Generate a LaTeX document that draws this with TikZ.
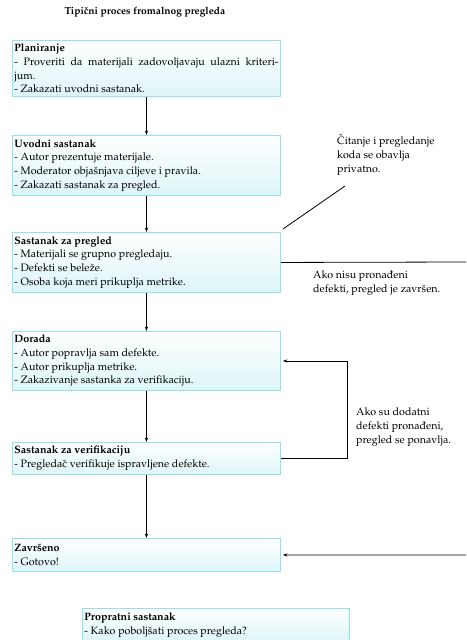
\documentclass[tikz,border=0pt]{standalone}
\usepackage[T1]{fontenc}
\usepackage{mathpazo}
\usetikzlibrary{arrows.meta}
\definecolor{boxline}{HTML}{8FE3EA}
\definecolor{boxbot}{HTML}{DDF5F7}
\tikzset{
  stage/.style={draw=boxline, line width=0.9pt, top color=white, bottom color=boxbot,
    anchor=north west, text width=264pt, inner xsep=2pt, inner ysep=0pt, align=justify,
    font=\fontsize{10.7}{13.7}\selectfont\setlength\parindent{0pt}},
  arr/.style={line width=0.8pt, -{Stealth[length=4.5pt,width=3.2pt]}},
  ln/.style={line width=0.8pt},
  note/.style={anchor=north west, align=left, inner sep=0pt, font=\fontsize{10.7}{14}\selectfont}
}
\begin{document}
\begin{tikzpicture}[x=1pt,y=-1pt]
\useasboundingbox (0,0) rectangle (466,640);
\node[font=\fontsize{10.2}{12}\selectfont] (title) at (145,12) {\textbf{Tipi\v{c}ni proces fromalnog pregleda}};

\node[stage, minimum height=56pt] (plan) at (12,40) {\textbf{Planiranje}\par
- Proveriti da materijali zadovoljavaju ulazni kriteri-\linebreak jum.\par
- Zakazati uvodni sastanak.};

\node[stage, minimum height=60pt] (uvod) at (12,135) {\textbf{Uvodni sastanak}\par
- Autor prezentuje materijale.\par
- Moderator obja\v{s}njava ciljeve i pravila.\par
- Zakazati sastanak za pregled.};

\node[stage, minimum height=60pt] (sast) at (12,232) {\textbf{Sastanak za pregled}\par
- Materijali se grupno pregledaju.\par
- Defekti se bele\v{z}e.\par
- Osoba koja meri prikuplja metrike.};

\node[stage, minimum height=59pt] (dor) at (12,331) {\textbf{Dorada}\par
- Autor popravlja sam defekte.\par
- Autor prikuplja metrike.\par
- Zakazivanje sastanka za verifikaciju.};

\node[stage, minimum height=32pt] (ver) at (12,442) {\textbf{Sastanak za verifikaciju}\par
- Pregleda\v{c} verifikuje ispravljene defekte.};

\node[stage, minimum height=33pt] (zav) at (12,538) {\textbf{Zavr\v{s}eno}\par
- Gotovo!};

\node[stage, minimum height=33pt, text width=263pt] (prop) at (82,608) {\textbf{Propratni sastanak}\par
- Kako pobolj\v{s}ati proces pregleda?};

\node[note] (n1) at (337,134) {\v{C}itanje i pregledanje\\koda se obavlja\\privatno.};
\node[note] (n2) at (313,271) {Ako nisu prona\dj eni\\defekti, pregled je zavr\v{s}en.};
\node[note] (n3) at (356,408) {Ako su dodatni\\defekti prona\dj eni,\\pregled se ponavlja.};

\coordinate (d1) at (283,229);
\coordinate (d2) at (345,186);
\coordinate (r1) at (466,262);
\coordinate (r2) at (466,555);

\draw[arr] (plan.south) -- (uvod.north);
\draw[arr] (uvod.south) -- (sast.north);
\draw[arr] (sast.south) -- (dor.north);
\draw[arr] (dor.south) -- (ver.north);
\draw[arr] (ver.south) -- (zav.north);
\draw[ln] (d1) -- (d2);
\draw[ln] (sast.east) -- (r1);
\draw[arr] (r2) -- ([xshift=2pt]zav.east);
\draw[arr] (ver.east) -- ++(66,0) |- ([xshift=2pt]dor.east);
\end{tikzpicture}
\end{document}
